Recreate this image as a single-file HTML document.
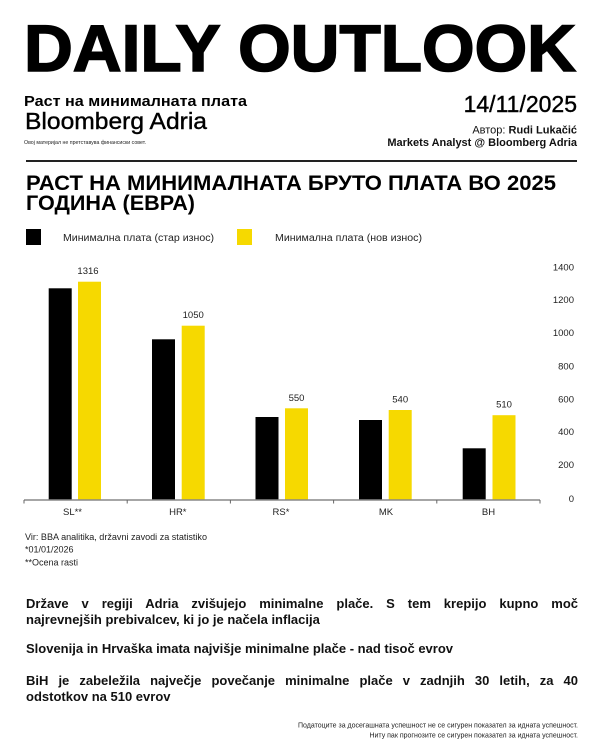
<!DOCTYPE html>
<html>
<head>
<meta charset="utf-8">
<style>
  html,body{margin:0;padding:0;background:#fff;}
  body{width:600px;height:750px;position:relative;overflow:hidden;font-family:"Liberation Sans",Arial,sans-serif;color:#111;}
  svg{position:absolute;left:0;top:0;}
  .p{position:absolute;left:26px;width:552px;font-family:"Liberation Sans",Arial,sans-serif;font-weight:bold;font-size:13px;line-height:16px;color:#111;}
  .p div{white-space:nowrap;}
  .p .j{text-align:justify;text-align-last:justify;white-space:normal;}
</style>
</head>
<body>
<svg width="600" height="750" viewBox="0 0 600 750" xmlns="http://www.w3.org/2000/svg" font-family="Liberation Sans, Arial, sans-serif">
  <!-- Header -->
  <text x="24" y="71" font-size="66" font-weight="bold" fill="#000" stroke="#000" stroke-width="1.6" textLength="552" lengthAdjust="spacingAndGlyphs">DAILY OUTLOOK</text>

  <text x="24" y="106" font-size="14.5" font-weight="bold" fill="#000" textLength="223" lengthAdjust="spacingAndGlyphs">Раст на минималната плата</text>
  <text x="25" y="129" font-size="23.5" fill="#000" stroke="#000" stroke-width="0.4" textLength="182" lengthAdjust="spacingAndGlyphs">Bloomberg Adria</text>
  <text x="24" y="144" font-size="5.5" fill="#222" textLength="122" lengthAdjust="spacingAndGlyphs">Овој материјал не претставува финансиски совет.</text>

  <text x="577" y="112" font-size="23" fill="#000" stroke="#000" stroke-width="0.4" text-anchor="end">14/11/2025</text>
  <text x="577" y="133.5" font-size="11" fill="#111" text-anchor="end">Автор: <tspan font-weight="bold">Rudi Lukačić</tspan></text>
  <text x="577" y="146" font-size="11" font-weight="bold" fill="#111" text-anchor="end">Markets Analyst @ Bloomberg Adria</text>

  <line x1="26" y1="161" x2="577" y2="161" stroke="#222" stroke-width="2"/>

  <!-- Chart title -->
  <text x="26" y="190" font-size="21.5" font-weight="bold" fill="#000" textLength="530" lengthAdjust="spacingAndGlyphs">РАСТ НА МИНИМАЛНАТА БРУТО ПЛАТА ВО 2025</text>
  <text x="26" y="210" font-size="21.5" font-weight="bold" fill="#000" textLength="169" lengthAdjust="spacingAndGlyphs">ГОДИНА (ЕВРА)</text>

  <!-- Legend -->
  <rect x="26" y="229" width="15" height="16" fill="#000"/>
  <text x="63" y="241" font-size="10" fill="#222" textLength="151" lengthAdjust="spacingAndGlyphs">Минимална плата (стар износ)</text>
  <rect x="237" y="229" width="15" height="16" fill="#F6D900"/>
  <text x="275" y="241" font-size="10" fill="#222" textLength="147" lengthAdjust="spacingAndGlyphs">Минимална плата (нов износ)</text>

  <!-- Y axis labels -->
  <g font-size="9.5" fill="#222" text-anchor="end">
    <text x="574" y="501.8">0</text>
    <text x="574" y="467.8">200</text>
    <text x="574" y="435.2">400</text>
    <text x="574" y="402.5">600</text>
    <text x="574" y="369.5">800</text>
    <text x="574" y="336.2">1000</text>
    <text x="574" y="302.8">1200</text>
    <text x="574" y="270.5">1400</text>
  </g>

  <!-- Bars -->
  <g fill="#000">
    <rect x="48.7" y="288.3" width="23" height="211.2"/>
    <rect x="152" y="339.3" width="23" height="160.2"/>
    <rect x="255.5" y="417" width="23" height="82.5"/>
    <rect x="359" y="420" width="23" height="79.5"/>
    <rect x="462.7" y="448.3" width="23" height="51.2"/>
  </g>
  <g fill="#F6D900">
    <rect x="78" y="281.7" width="23" height="217.8"/>
    <rect x="181.7" y="325.7" width="23" height="173.8"/>
    <rect x="285" y="408.3" width="23" height="91.2"/>
    <rect x="388.7" y="410" width="23" height="89.5"/>
    <rect x="492.5" y="415.2" width="23" height="84.3"/>
  </g>

  <!-- Value labels -->
  <g font-size="9.5" fill="#222" text-anchor="middle">
    <text x="88" y="274.2">1316</text>
    <text x="193.2" y="318.2">1050</text>
    <text x="296.5" y="401">550</text>
    <text x="400.2" y="402.5">540</text>
    <text x="504" y="407.5">510</text>
  </g>

  <!-- X axis -->
  <line x1="24" y1="500" x2="540" y2="500" stroke="#888" stroke-width="1.5"/>
  <g stroke="#666" stroke-width="1">
    <line x1="24" y1="500" x2="24" y2="503.5"/>
    <line x1="127.2" y1="500" x2="127.2" y2="503.5"/>
    <line x1="230.4" y1="500" x2="230.4" y2="503.5"/>
    <line x1="333.6" y1="500" x2="333.6" y2="503.5"/>
    <line x1="436.8" y1="500" x2="436.8" y2="503.5"/>
    <line x1="540" y1="500" x2="540" y2="503.5"/>
  </g>
  <g font-size="9.5" fill="#222" text-anchor="middle">
    <text x="72.5" y="515">SL**</text>
    <text x="177.8" y="515">HR*</text>
    <text x="281" y="515">RS*</text>
    <text x="386" y="515">MK</text>
    <text x="488.5" y="515">BH</text>
  </g>

  <!-- Notes -->
  <g font-size="9" fill="#222">
    <text x="25" y="540" textLength="182" lengthAdjust="spacingAndGlyphs">Vir: BBA analitika, državni zavodi za statistiko</text>
    <text x="25" y="552.5">*01/01/2026</text>
    <text x="25" y="565.5">**Ocena rasti</text>
  </g>

  <!-- Bottom disclaimer -->
  <g font-size="7" fill="#222" text-anchor="end">
    <text x="578" y="727.5">Податоците за досегашната успешност не се сигурен показател за идната успешност.</text>
    <text x="578" y="737.5">Ниту пак прогнозите се сигурен показател за идната успешност.</text>
  </g>
</svg>

<div class="p" style="top:596px;">
  <div class="j">Države v regiji Adria zvišujejo minimalne plače. S tem krepijo kupno moč</div>
  <div>najrevnejših prebivalcev, ki jo je načela inflacija</div>
</div>
<div class="p" style="top:641px;">
  <div>Slovenija in Hrvaška imata najvišje minimalne plače - nad tisoč evrov</div>
</div>
<div class="p" style="top:673px;">
  <div class="j">BiH je zabeležila največje povečanje minimalne plače v zadnjih 30 letih, za 40</div>
  <div>odstotkov na 510 evrov</div>
</div>
</body>
</html>
